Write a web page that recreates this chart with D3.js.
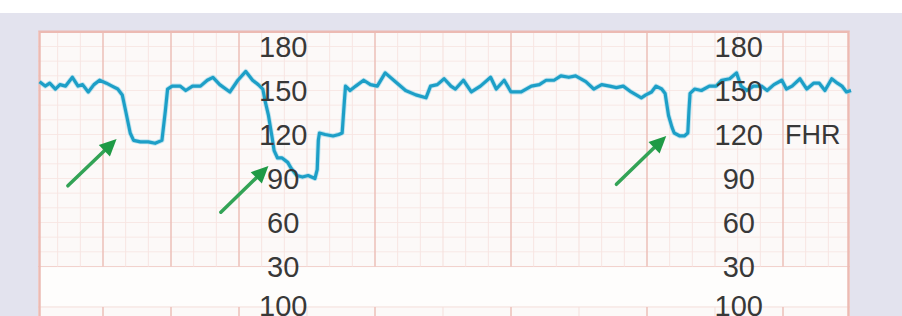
<!DOCTYPE html>
<html>
<head>
<meta charset="utf-8">
<script src="https://cdn.jsdelivr.net/npm/d3@7"></script>
<style>
  html, body { margin: 0; padding: 0; background: #ffffff; }
  svg { display: block; }
</style>
</head>
<body>
<script>
// FHR trace, time in seconds, value in bpm
const fhrTime = [4, 9, 13, 18, 22, 27, 33, 38, 42, 47, 52, 57, 63, 68, 73, 77, 80, 84, 87, 93, 100, 106, 112, 115,
  117, 121, 128, 133, 139, 146, 152, 157, 163, 172, 179, 186, 192, 197, 201, 203, 206, 209, 211, 214, 218, 223, 226,
  231, 236, 241, 247, 249, 250, 251, 256, 263, 268, 271, 273, 274, 278, 283, 290, 296, 302, 309, 318, 327, 336, 345,
  349, 355, 361, 367, 371, 378, 385, 393, 402, 407, 414, 420, 429, 438, 445, 451, 458, 464, 471, 477, 486, 493, 500,
  507, 513, 519, 526, 535, 539, 544, 548, 553, 556, 559, 562, 564, 569, 573, 576, 577, 578, 582, 588, 595, 601, 606,
  613, 619, 623, 628, 634, 641, 646, 652, 659, 663, 668, 675, 681, 687, 692, 697, 703, 708, 712, 716, 720];
const fhrBpm = [156, 153, 155, 151, 154, 153, 159, 153, 154, 149, 154, 157, 155, 153, 151, 147, 136, 121, 116, 115, 115, 114, 116, 136,
  151, 153, 153, 150, 153, 153, 157, 159, 154, 149, 157, 163, 157, 154, 151, 143, 133, 119, 109, 104, 104, 101, 97,
  92, 91, 92, 90, 96, 116, 121, 120, 119, 120, 121, 143, 153, 150, 153, 157, 154, 153, 162, 156, 150, 147, 145,
  153, 154, 158, 153, 151, 157, 149, 153, 159, 151, 157, 149, 149, 153, 154, 157, 157, 160, 159, 160, 156, 151, 154,
  153, 152, 153, 149, 145, 147, 149, 153, 151, 148, 133, 125, 121, 119, 119, 121, 136, 148, 151, 150, 153, 153, 157,
  158, 162, 153, 150, 153, 153, 150, 154, 157, 151, 153, 158, 151, 155, 155, 150, 158, 155, 153, 149, 150];

const fhrTicks = [180, 150, 120, 90, 60, 30];
const ucTicks = [100];
const labelMinutes = [3.65, 10.35];   // the two columns of scale numbers
const majorMinutes = [1, 2, 3, 5, 7, 9, 11];

// green arrows: [tailSec, tailBpm, tipSec, tipBpm]
const arrows = [
  [29, 85, 72, 117],
  [164, 67, 206, 98.5],
  [513, 86, 557, 119]
];

const W = 902, H = 316;
const svg = d3.select('body').append('svg').attr('width', W).attr('height', H);

const x = d3.scaleLinear().domain([0, 720]).range([35, 851]);
const y = d3.scaleLinear().domain([30, 180]).range([266.5, 46.5]);
const yUc = d3.scaleLinear().domain([0, 100]).range([420, 306]);

// background
svg.append('rect').attr('width', W).attr('height', H).attr('fill', '#ffffff');
svg.append('rect').attr('y', 13).attr('width', W).attr('height', H - 13).attr('fill', '#e3e3ee');

// paper
const paperLeft = 38, paperRight = 850, paperTop = y(190);
svg.append('rect')
  .attr('x', paperLeft).attr('y', paperTop)
  .attr('width', paperRight - paperLeft).attr('height', H - paperTop)
  .attr('fill', '#fcf9f8');

const grid = svg.append('g');

// horizontal FHR lines every 10 bpm
grid.selectAll('.hline')
  .data(d3.range(30, 190, 10))
  .enter()
  .append('line')
  .attr('x1', paperLeft).attr('x2', paperRight)
  .attr('y1', d => y(d)).attr('y2', d => y(d))
  .attr('stroke', d => d === 30 ? '#f2d2cd' : '#f8e8e5')
  .attr('stroke-width', 1);

// vertical minor lines every 20 s
grid.selectAll('.vminor')
  .data(d3.range(20, 720, 20).filter(d => d % 60 !== 0))
  .enter()
  .append('line')
  .attr('x1', d => x(d)).attr('x2', d => x(d))
  .attr('y1', paperTop).attr('y2', y(30))
  .attr('stroke', '#f7e5e2')
  .attr('stroke-width', 1);

// vertical minute lines
grid.selectAll('.vmajor')
  .data(d3.range(1, 12))
  .enter()
  .append('line')
  .attr('x1', d => x(d * 60)).attr('x2', d => x(d * 60))
  .attr('y1', paperTop).attr('y2', y(30))
  .attr('stroke', d => majorMinutes.includes(d) ? '#ecbfb9' : '#f5dfdb')
  .attr('stroke-width', d => majorMinutes.includes(d) ? 1.5 : 1);

// white band between channels
svg.append('rect')
  .attr('x', paperLeft + 2).attr('y', y(30) + 1)
  .attr('width', paperRight - paperLeft - 4).attr('height', yUc(100) - y(30) - 1)
  .attr('fill', '#fefdfc');

// UC channel grid
const ucTop = yUc(100) + 1;
grid.append('line')
  .attr('x1', paperLeft).attr('x2', paperRight)
  .attr('y1', ucTop).attr('y2', ucTop)
  .attr('stroke', '#f5dfdb');
svg.selectAll('.ucv')
  .data(d3.range(1, 12))
  .enter()
  .append('line')
  .attr('x1', d => x(d * 60)).attr('x2', d => x(d * 60))
  .attr('y1', ucTop).attr('y2', H)
  .attr('stroke', d => majorMinutes.includes(d) ? '#ecbfb9' : '#f5dfdb')
  .attr('stroke-width', d => majorMinutes.includes(d) ? 1.5 : 1);

// paper border
svg.append('path')
  .attr('d', `M${paperLeft + 1.5},${H} V${paperTop} H${paperRight - 1.5} V${H}`)
  .attr('fill', 'none')
  .attr('stroke', '#ecbab3')
  .attr('stroke-width', 2.5);

// FHR trace
const line = d3.line()
  .x((d, i) => x(fhrTime[i]))
  .y(d => y(d));

svg.append('path')
  .datum(fhrBpm)
  .attr('d', line)
  .attr('fill', 'none')
  .attr('stroke', '#8fd3e8')
  .attr('stroke-width', 5)
  .attr('stroke-linejoin', 'round')
  .attr('opacity', 0.55);

svg.append('path')
  .datum(fhrBpm)
  .attr('d', line)
  .attr('fill', 'none')
  .attr('stroke', '#1d9fc7')
  .attr('stroke-width', 3.2)
  .attr('stroke-linejoin', 'round');

// scale labels
const labels = svg.append('g')
  .attr('font-family', '"Liberation Sans", Arial, sans-serif')
  .attr('fill', '#383838')
  .attr('text-anchor', 'middle');

labelMinutes.forEach(m => {
  labels.selectAll(null)
    .data(fhrTicks)
    .enter()
    .append('text')
    .attr('x', x(m * 60))
    .attr('y', d => y(d))
    .attr('dy', '0.36em')
    .attr('font-size', 29)
    .text(d => d);

  labels.selectAll(null)
    .data(ucTicks)
    .enter()
    .append('text')
    .attr('x', x(m * 60))
    .attr('y', d => yUc(d))
    .attr('dy', '0.36em')
    .attr('font-size', 29)
    .text(d => d);
});

labels.append('text')
  .attr('x', 785)
  .attr('y', y(120))
  .attr('dy', '0.36em')
  .attr('text-anchor', 'start')
  .attr('font-size', 27)
  .text('FHR');

// arrows
const arrowG = svg.append('g');
arrows.forEach(a => {
  const x0 = x(a[0]), y0 = y(a[1]), x1 = x(a[2]), y1 = y(a[3]);
  const ang = Math.atan2(y1 - y0, x1 - x0);
  const len = 17, half = 8;
  const bx = x1 - len * Math.cos(ang), by = y1 - len * Math.sin(ang);
  arrowG.append('line')
    .attr('x1', x0).attr('y1', y0)
    .attr('x2', bx).attr('y2', by)
    .attr('stroke', '#33a356')
    .attr('stroke-width', 3.5)
    .attr('stroke-linecap', 'round');
  arrowG.append('path')
    .attr('d', `M${x1},${y1} L${bx + half * Math.sin(ang)},${by - half * Math.cos(ang)} L${bx - half * Math.sin(ang)},${by + half * Math.cos(ang)} Z`)
    .attr('fill', '#1f9a45');
});
</script>
</body>
</html>
